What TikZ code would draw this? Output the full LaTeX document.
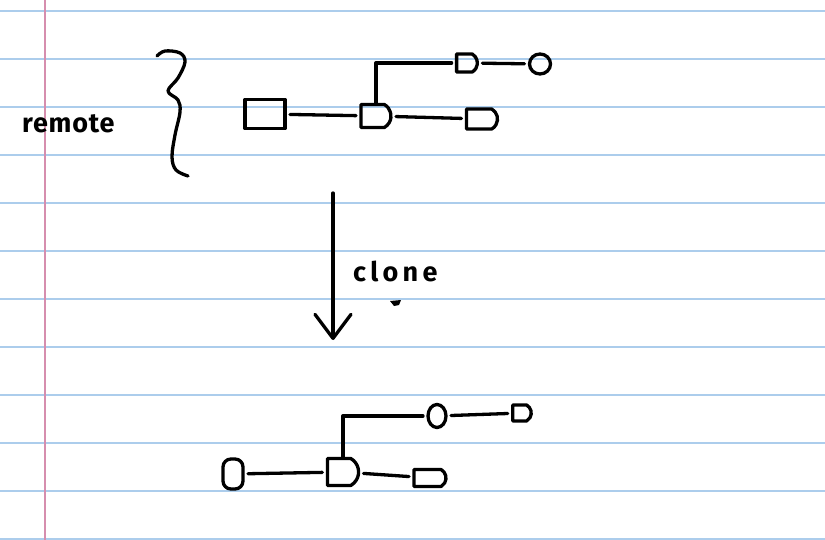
\documentclass[tikz,border=0pt]{standalone}
\usepackage{fontspec}
\newfontfamily\handfont{Fira Sans}
\usetikzlibrary{shapes.misc,shapes.geometric,arrows.meta}
\definecolor{ruleblue}{RGB}{172,205,236}
\definecolor{marginred}{RGB}{214,142,174}
\begin{document}
\begin{tikzpicture}[x=1pt,y=-1pt,
  ink/.style={line width=3.3pt, line cap=round, line join=round},
  sq/.style={ink, draw, rectangle, inner sep=0pt, outer sep=5pt},
  dn/.style={ink, draw, rounded rectangle, rounded rectangle left arc=none,
    rounded rectangle arc length=120, inner sep=0pt, outer sep=5pt},
  tall/.style={ink, draw, rectangle, rounded corners=8pt, inner sep=0pt, outer sep=5pt},
  on/.style={ink, draw, ellipse, inner sep=0pt, outer sep=5pt},
  conn/.style={ink},
  riser/.style={ink, shorten <=-4pt},
  hand/.style={font=\handfont\bfseries\fontsize{27}{30}\selectfont, inner sep=0pt, anchor=base west}]
\useasboundingbox (0,0) rectangle (825,540);
\fill[white] (0,0) rectangle (825,540);
\foreach \k in {0,...,11} \draw[ruleblue, line width=2pt] (0,{11+48*\k}) -- (825,{11+48*\k});
\draw[marginred, line width=2pt] (45,0) -- (45,540);

% label and brace
\node[hand] (remote) at (22,133) {\addfontfeatures{LetterSpace=3}remote};
\draw[ink] plot[smooth, tension=0.6] coordinates {(157,56) (165,51) (180,53) (185,62) (178,78) (168,91) (178,100) (180,112) (175,135) (172,157) (176,170) (188,176)};

% remote graph
\node[sq, minimum width=40pt, minimum height=29pt] (r0) at (265,114) {};
\node[dn, minimum width=30pt, minimum height=23pt] (r1) at (376,116) {};
\node[dn, minimum width=31pt, minimum height=20pt] (r2) at (482,119) {};
\node[dn, minimum width=19pt, minimum height=18pt] (r3) at (467,63) {};
\node[on, minimum width=21pt, minimum height=20pt] (r4) at (540,64) {};
\draw[conn] (r0) -- (r1);
\draw[conn] (r1) -- (r2);
\draw[riser] (r1.north) |- (r3.west);
\draw[conn] (r3) -- (r4);

% clone arrow
\coordinate (a0) at (333,193);
\coordinate (a1) at (333,340);
\draw[conn, -{Straight Barb[length=24pt, width=36pt, round]}] (a0) -- (a1);
\node[hand] (clone) at (353,282) {\addfontfeatures{LetterSpace=16}clone};
\fill (390,301) -- (401,300) -- (399,305) -- (394,306) -- cycle;

% local graph
\node[tall, minimum width=20pt, minimum height=30pt] (c0) at (233,474) {};
\node[dn, minimum width=27pt, minimum height=27pt] (c1) at (343,472) {};
\node[on, minimum width=18pt, minimum height=23pt] (c2) at (437,416) {};
\node[dn, minimum width=18pt, minimum height=16pt] (c3) at (522,413) {};
\node[dn, minimum width=32pt, minimum height=17pt] (c4) at (430,478) {};
\draw[conn] (c0) -- (c1);
\draw[riser] (c1.north) |- (c2.west);
\draw[conn] (c2) -- (c3);
\draw[conn] (c1) -- (c4);
\end{tikzpicture}
\end{document}
